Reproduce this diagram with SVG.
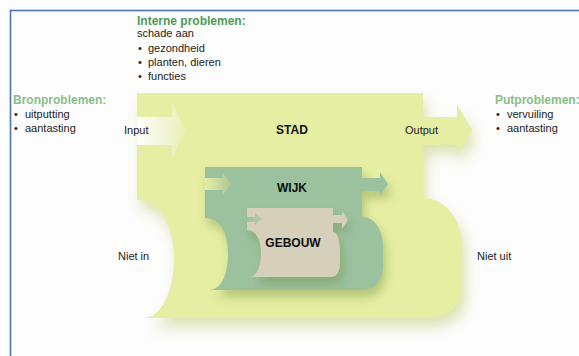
<svg xmlns="http://www.w3.org/2000/svg" width="579" height="356" viewBox="0 0 579 356">
  <style>
    .t { font-family: "Liberation Sans", Arial, sans-serif; font-size: 11px; fill: #222; }
    .b { font-family: "Liberation Sans", Arial, sans-serif; font-size: 12px; font-weight: bold; fill: #111; }
    .h { font-family: "Liberation Sans", Arial, sans-serif; font-size: 12px; font-weight: bold; }
  </style>
  <defs>
    <filter id="shStad" x="-20%" y="-20%" width="150%" height="150%">
      <feDropShadow dx="4" dy="9" stdDeviation="7" flood-color="#b9c86a" flood-opacity="0.5"/>
    </filter>
    <filter id="shIn" x="-20%" y="-20%" width="150%" height="150%">
      <feDropShadow dx="3" dy="7" stdDeviation="5" flood-color="#6f8a3c" flood-opacity="0.4"/>
    </filter>
    <linearGradient id="gStad" x1="137" y1="0" x2="186" y2="0" gradientUnits="userSpaceOnUse">
      <stop offset="0" stop-color="#ffffff"/>
      <stop offset="0.55" stop-color="#f1f5d6"/>
      <stop offset="1" stop-color="#e9f0b4"/>
    </linearGradient>
    <linearGradient id="gWijk" x1="205" y1="0" x2="232" y2="0" gradientUnits="userSpaceOnUse">
      <stop offset="0" stop-color="#e5eea2"/>
      <stop offset="1" stop-color="#a9c596"/>
    </linearGradient>
    <linearGradient id="gGeb" x1="247" y1="0" x2="262" y2="0" gradientUnits="userSpaceOnUse">
      <stop offset="0" stop-color="#9bc19f"/>
      <stop offset="1" stop-color="#b9c9ad"/>
    </linearGradient>
  </defs>

  <rect x="0" y="0" width="579" height="356" fill="#fdfdfd"/>
  <rect x="10.5" y="10.5" width="620" height="400" fill="none" stroke="#4f74b5" stroke-width="1.6"/>

  <g id="stad">
    <path filter="url(#shStad)" fill="#e5eea2" d="M137,93 H423 V117 H457 V104 L472,130 L457,156 V145 H423 V198 C445,198 462,220 462,245 V288 C462,308 447,318 425,318 H143 C162,318 174,290 174,258 C174,225 160,200 137,200 Z"/>
    <text class="b" x="292" y="134" text-anchor="middle">STAD</text>
  </g>

  <g id="wijk">
    <path filter="url(#shIn)" fill="#9bc19f" d="M205,167 H362 V178 H380 V172 L388,184 L380,196 V191 H362 V217 C375,217 383,230 383,248 V265 C383,281 375,290 362,290 H209 C221,290 228,275 228,254 C228,232 220,218 205,218 Z"/>
    <text class="b" x="292" y="192" text-anchor="middle">WIJK</text>
  </g>

  <g id="gebouw">
    <path filter="url(#shIn)" fill="#d6cfba" d="M247,208 H333 V215 H342 V211 L348,220 L342,229 V223 H333 V232 C338,232 340,242 340,252 V262 C340,272 337,277 330,277 H250 C257,277 261,265 261,253 C261,240 256,230 247,230 Z"/>
    <text class="b" x="293" y="247" text-anchor="middle" font-size="12.5">GEBOUW</text>
  </g>

  <g id="connectors">
    <polygon fill="url(#gStad)" points="137,117 172,117 172,103 186,130 172,157 172,145 137,145"/>
    <polygon fill="url(#gWijk)" points="205,178 223,178 223,174 232,184 223,194 223,190 205,190"/>
    <polygon fill="url(#gGeb)" points="247,217 255,217 255,213 262,219 255,225 255,222 247,222"/>
  </g>

  <g id="interne">
    <text class="h" x="137" y="25" fill="#4f9b58">Interne problemen:</text>
    <text class="t" x="137" y="37">schade aan</text>
    <text class="t" x="138" y="52">•</text>
    <text class="t" x="148" y="52">gezondheid</text>
    <text class="t" x="138" y="66">•</text>
    <text class="t" x="148" y="66">planten, dieren</text>
    <text class="t" x="138" y="80">•</text>
    <text class="t" x="148" y="80">functies</text>
  </g>

  <g id="bron">
    <text class="h" x="13" y="104" fill="#8bbd88">Bronproblemen:</text>
    <text class="t" x="14" y="118">•</text>
    <text class="t" x="25" y="118">uitputting</text>
    <text class="t" x="14" y="132">•</text>
    <text class="t" x="25" y="132">aantasting</text>
  </g>

  <g id="put">
    <text class="h" x="495" y="104" fill="#8bbd88" font-size="11.5">Putproblemen:</text>
    <text class="t" x="496" y="118">•</text>
    <text class="t" x="507" y="118">vervuiling</text>
    <text class="t" x="496" y="132">•</text>
    <text class="t" x="507" y="132">aantasting</text>
  </g>

  <g id="labels">
    <text class="t" x="124" y="134">Input</text>
    <text class="t" x="405" y="134">Output</text>
    <text class="t" x="118" y="260">Niet in</text>
    <text class="t" x="477" y="260">Niet uit</text>
  </g>
</svg>
